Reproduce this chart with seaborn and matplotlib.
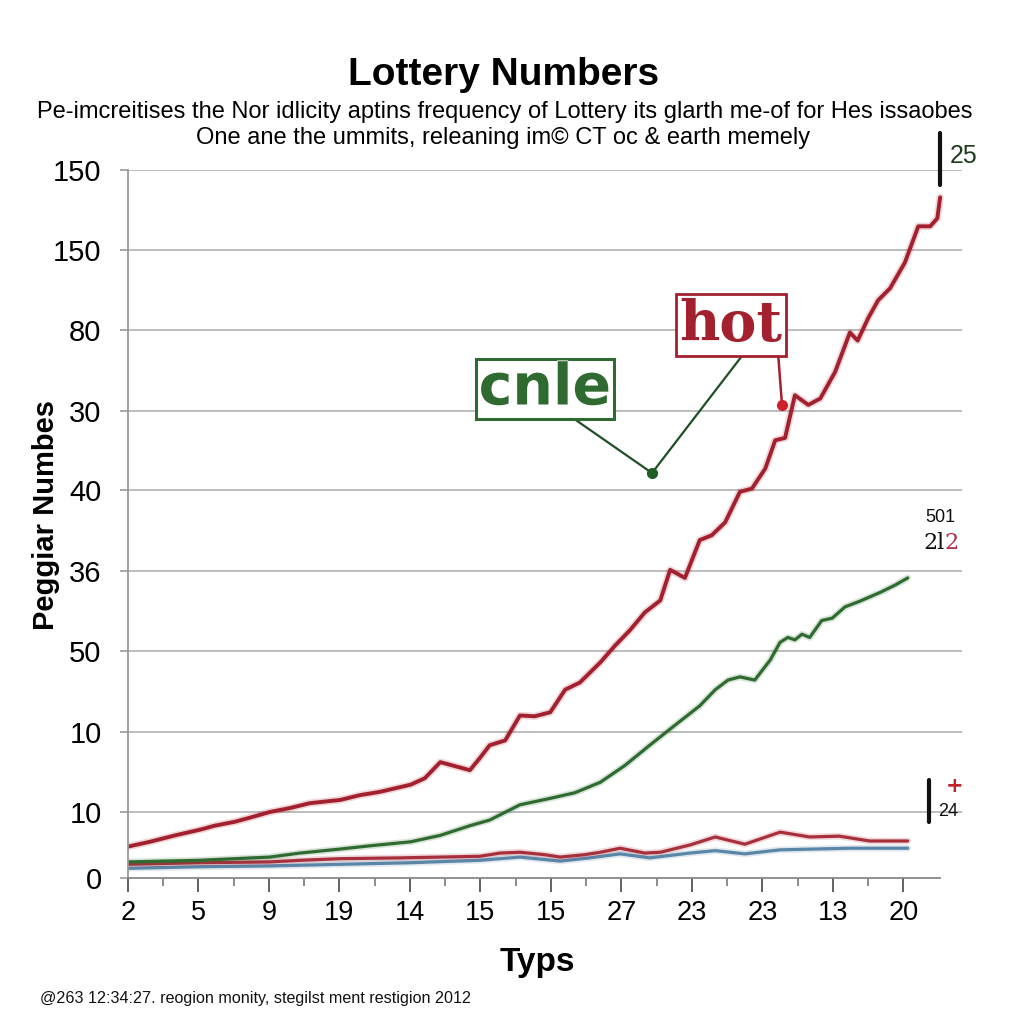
import matplotlib
matplotlib.use("Agg")
import matplotlib.pyplot as plt
import matplotlib.patheffects as pe
import seaborn as sns
import pandas as pd
import numpy as np

# ---------------- data ----------------
x_tick_labels = ["2", "5", "9", "19", "14", "15", "15", "27", "23", "23", "13", "20"]
y_tick_labels = ["0", "10", "10", "50", "36", "40", "30", "80", "150", "150"]
y_tick_values = [0, 0.82, 1.81, 2.82, 3.81, 4.82, 5.81, 6.81, 7.80, 8.80]

hot_x = [0, 0.31, 0.67, 1.02, 1.23, 1.52, 1.73, 2.01, 2.30, 2.58, 3.01, 3.29, 3.57, 4.01,
         4.21, 4.43, 4.64, 4.85, 4.99, 5.13, 5.35, 5.56, 5.77, 5.99, 6.20, 6.41, 6.70, 6.91,
         7.12, 7.33, 7.55, 7.69, 7.90, 8.11, 8.28, 8.47, 8.68, 8.85, 9.04, 9.18, 9.32, 9.46,
         9.65, 9.82, 10.03, 10.24, 10.35, 10.50, 10.64, 10.81, 11.02, 11.21, 11.38, 11.48, 11.52]
hot_y = [0.39, 0.45, 0.53, 0.60, 0.65, 0.70, 0.75, 0.82, 0.87, 0.93, 0.97, 1.03, 1.07, 1.16,
         1.24, 1.44, 1.39, 1.34, 1.49, 1.65, 1.71, 2.02, 2.01, 2.06, 2.34, 2.43, 2.68, 2.89,
         3.08, 3.30, 3.45, 3.83, 3.73, 4.20, 4.26, 4.42, 4.80, 4.84, 5.09, 5.44, 5.47, 6.00,
         5.88, 5.96, 6.29, 6.78, 6.68, 6.96, 7.18, 7.33, 7.65, 8.10, 8.10, 8.20, 8.46]

cold_x = [0, 1.02, 2.01, 2.44, 3.01, 3.43, 4.01, 4.43, 4.85, 5.13, 5.56, 5.99, 6.34, 6.70,
          7.05, 7.40, 7.76, 8.11, 8.33, 8.51, 8.68, 8.89, 9.11, 9.25, 9.36, 9.46, 9.56, 9.67,
          9.84, 9.99, 10.17, 10.38, 10.67, 10.88, 11.06]
cold_y = [0.20, 0.22, 0.26, 0.31, 0.36, 0.40, 0.45, 0.53, 0.65, 0.72, 0.91, 0.99, 1.06, 1.19,
          1.40, 1.65, 1.90, 2.14, 2.34, 2.46, 2.50, 2.46, 2.71, 2.93, 2.99, 2.96, 3.03, 2.99,
          3.20, 3.23, 3.37, 3.44, 3.55, 3.64, 3.73]

low_red_x = [0, 1.02, 2.01, 2.44, 3.01, 3.86, 4.43, 4.99, 5.28, 5.56, 5.91, 6.13, 6.48, 6.70,
             6.98, 7.33, 7.55, 7.97, 8.33, 8.75, 9.25, 9.67, 10.09, 10.52, 11.06]
low_red_y = [0.17, 0.19, 0.20, 0.22, 0.24, 0.25, 0.26, 0.27, 0.31, 0.32, 0.29, 0.26, 0.29, 0.32,
             0.37, 0.31, 0.32, 0.41, 0.51, 0.42, 0.57, 0.51, 0.52, 0.46, 0.46]

blue_x = [0, 1.02, 2.01, 3.01, 4.01, 4.99, 5.56, 6.13, 6.55, 6.98, 7.40, 7.97, 8.33, 8.75,
          9.25, 10.24, 11.06]
blue_y = [0.12, 0.14, 0.15, 0.17, 0.19, 0.22, 0.26, 0.21, 0.25, 0.30, 0.25, 0.31, 0.34, 0.30,
          0.35, 0.37, 0.37]

title = "Lottery Numbers"
subtitle1 = "Pe-imcreitises the Nor idlicity aptins frequency of Lottery its glarth me-of for Hes issaobes"
subtitle2 = "One ane the ummits, releaning im\u00a9 CT oc & earth memely"
footer = "@263 12:34:27. reogion monity, stegilst ment restigion 2012"

# ---------------- style ----------------
sns.set_theme(style="white")
plt.rcParams["font.family"] = ["Liberation Sans", "DejaVu Sans"]
plt.rcParams["text.color"] = "#000000"
plt.rcParams["axes.labelcolor"] = "#000000"

RED = "#a3202e"
GREEN = "#2f6b30"
BLUE = "#5a86a8"
LRED = "#a8303c"
INK = "#000000"

fig = plt.figure(figsize=(10.24, 10.24), dpi=100)
fig.patch.set_facecolor("white")
ax = fig.add_axes([128 / 1024, 1 - 878 / 1024, (962 - 128) / 1024, (878 - 170) / 1024])

def frame(x, y, name):
    return pd.DataFrame({"x": x, "y": y, "series": name})

df = pd.concat([frame(hot_x, hot_y, "hot"), frame(cold_x, cold_y, "cold"),
                frame(low_red_x, low_red_y, "low"), frame(blue_x, blue_y, "blue")])

for name, col, lw in [("blue", BLUE, 2.3), ("low", LRED, 2.3), ("cold", GREEN, 2.3), ("hot", RED, 2.8)]:
    sub = df[df["series"] == name]
    l = sns.lineplot(data=sub, x="x", y="y", ax=ax, color=col, linewidth=lw, sort=False,
                     estimator=None, legend=False)
    l.lines[-1].set_path_effects([pe.Stroke(linewidth=lw + 2.5, foreground=col, alpha=0.18), pe.Normal()])

ax.set_xlim(0, 11.83)
ax.set_ylim(0, 8.80)

for v in y_tick_values[1:]:
    ax.axhline(v, color="#b8b8b8", lw=1.3, zorder=0)

ax.set_yticks(y_tick_values)
ax.set_yticklabels(y_tick_labels, fontsize=21, color=INK)
ax.set_xticks(range(len(x_tick_labels)))
ax.set_xticklabels(x_tick_labels, fontsize=19.5, color=INK)
ax.set_xticks(np.arange(0.5, 11.5, 1.0), minor=True)
ax.tick_params(axis="y", which="major", length=6, width=1.2, color="#999999", pad=13, left=True)
ax.tick_params(axis="x", which="major", length=10, width=1.3, color="#555555", pad=6, bottom=True)
ax.tick_params(axis="x", which="minor", length=6, width=1.2, color="#777777", bottom=True)

for s in ["top", "right"]:
    ax.spines[s].set_visible(False)
ax.spines["left"].set_color("#999999")
ax.spines["left"].set_linewidth(1.3)
ax.spines["bottom"].set_color("#888888")
ax.spines["bottom"].set_linewidth(1.3)
ax.spines["bottom"].set_bounds(0, 11.52)

ax.set_xlabel("Typs", fontsize=24, fontweight="bold", color=INK)
ax.xaxis.set_label_coords((537 - 128) / 834, (878 - 947) / 708)
ax.set_ylabel("Peggiar Numbes", fontsize=21, fontweight="bold", color=INK)
ax.yaxis.set_label_coords((60 - 128) / 834, (878 - 515) / 708)

def fx(px):
    return px / 1024

def fy(py):
    return 1 - py / 1024

fig.text(fx(504), fy(75), title, ha="center", va="center", fontsize=28, fontweight="bold", color=INK)
fig.text(fx(505), fy(112), subtitle1, ha="center", va="center", fontsize=17, color=INK)
fig.text(fx(503), fy(138), subtitle2, ha="center", va="center", fontsize=17, color=INK)
fig.text(fx(40), fy(998), footer, ha="left", va="center", fontsize=11.6, color="#111111")

# annotations: connector lines
fig.add_artist(plt.Line2D([fx(570), fx(652), fx(745)], [fy(416), fy(473), fy(352)],
                          color="#1f4f25", lw=1.6))
fig.add_artist(plt.Line2D([fx(652)], [fy(473)], marker="o", color="#1f5f25", markersize=7))
fig.add_artist(plt.Line2D([fx(778), fx(782)], [fy(352), fy(405)], color=RED, lw=1.8))
fig.add_artist(plt.Line2D([fx(782)], [fy(405)], marker="o", color="#d0202a", markersize=7))

fig.text(fx(545), fy(389), "cnle", ha="center", va="center", fontsize=41, color=GREEN,
         family=["DejaVu Sans"], fontweight="bold",
         path_effects=[pe.Stroke(linewidth=1.2, foreground="white"), pe.Normal()],
         bbox=dict(boxstyle="square,pad=0.05", fc="white", ec=GREEN, lw=2.2))
fig.text(fx(731), fy(325), "hot", ha="center", va="center", fontsize=40, color=RED,
         family=["DejaVu Serif"], fontweight="bold",
         bbox=dict(boxstyle="square,pad=0.06", fc="white", ec=RED, lw=2.0))

# right-side marks
fig.add_artist(plt.Line2D([fx(940), fx(940)], [fy(133), fy(185)], color="#111111", lw=3))
fig.text(fx(950), fy(156), "25", ha="left", va="center", fontsize=18, color="#1e3d1e")
fig.text(fx(940), fy(518), "501", ha="center", va="center", fontsize=13, color="#111111")
fig.text(fx(934), fy(543), "2l", ha="center", va="center", fontsize=16, color="#111111",
         family=["DejaVu Serif"])
fig.text(fx(952), fy(543), "2", ha="center", va="center", fontsize=16, color="#b0304a",
         family=["DejaVu Serif"])
fig.add_artist(plt.Line2D([fx(929), fx(929)], [fy(780), fy(822)], color="#111111", lw=3))
fig.text(fx(955), fy(786), "+", ha="center", va="center", fontsize=15, color="#c0202a",
         fontweight="bold", family=["DejaVu Sans"])
fig.text(fx(948), fy(812), "24", ha="center", va="center", fontsize=13, color="#111111")

fig.savefig("out.png", dpi=100, facecolor="white")
